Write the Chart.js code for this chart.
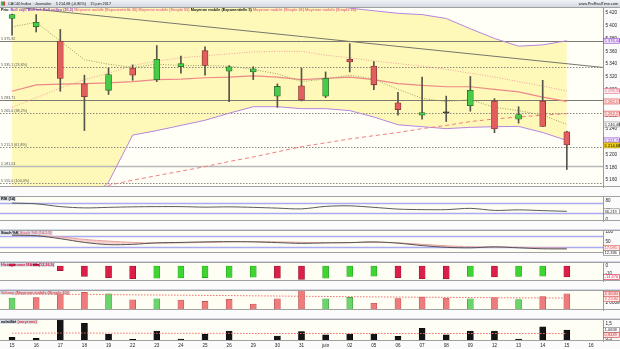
<!DOCTYPE html>
<html lang="fr"><head><meta charset="utf-8"><title>CAC40 Indice</title>
<script src="https://cdn.jsdelivr.net/npm/chart.js@4.4.1/dist/chart.umd.min.js"></script>
<style>
html,body{margin:0;padding:0}
body{width:620px;height:349px;position:relative;overflow:hidden;background:#d3d7e8}
canvas{position:absolute;left:0;display:block}
</style></head><body>
<canvas id="cMain" width="620" height="196" style="top:0px"></canvas>
<canvas id="cRsi" width="620" height="33" style="top:196px"></canvas>
<canvas id="cSto" width="620" height="31" style="top:230px"></canvas>
<canvas id="cMacd" width="620" height="27" style="top:262px"></canvas>
<canvas id="cVol" width="620" height="28" style="top:290px"></canvas>
<canvas id="cVat" width="620" height="30" style="top:319px"></canvas>
<script>
// ---------------- DATA ----------------
const labels = ['15','16','17','18','19','22','23','24','25','26','29','30','31','juin','02','05','06','07','08','09','12','13','14','15','16'];
const openP  = [5411,5398,5376,5309.5,5299.5,5334,5316,5336,5361,5329,5328,5290.5,5306.5,5290.5,5347.5,5337,5280,5261,5265,5275.7,5283,5254.5,5283,5235];
const closeP = [5417,5405,5318,5289.5,5324,5323,5347.5,5341,5338,5336,5333,5305.5,5284.6,5318,5343.6,5308,5269.5,5265,5264.5,5299.5,5239.6,5262,5243.5,5214.68];
const highP  = [5418,5417,5394,5323,5334,5339,5369,5352.5,5367,5338,5336,5309.5,5334,5328,5372,5344,5296.5,5320,5290.5,5321,5286.6,5274,5315,5236];
const lowP   = [5385,5390,5298,5237,5293,5315,5313,5326,5323,5282,5316,5273,5283,5288,5328,5300.5,5261,5254.5,5251,5267,5233.7,5248.5,5243,5176.5];
const bollUp  = [5462,5470,5478,5484,5482,5476,5470,5465,5460,5455,5450,5446,5442,5435,5427,5423,5419,5417,5411,5395,5380,5368,5370,5376.44];
const bollMid = [5273,5288,5303,5316,5326,5338,5345,5350,5353,5356,5359,5360,5360,5354,5350,5345,5341,5337,5332,5326,5320,5313,5306,5298.33];
const bollLow = [5084,5096,5108,5120,5157,5230,5237,5245,5253,5264,5274,5274,5271,5271,5268,5258,5246,5243,5240,5242,5243,5243.5,5234,5221.74];
const ema5    = [5398,5405,5376,5347,5340,5335,5340,5338,5338,5337,5332,5325,5313,5317,5323,5317,5301,5287,5282,5285,5273,5268,5261,5246.48];
const maSolid = [5298,5308,5309,5310,5311,5313,5316,5317,5319,5320,5322,5320,5316,5318,5320,5316,5310,5307,5305,5305,5301,5297,5289,5282.17];
const maDash  = [5118,5127,5136,5144,5152,5160,5167,5174,5181,5189,5196,5204,5212,5218,5224,5229,5234,5240,5245,5251,5255,5258,5261,5263.27];
const trendX = [-0.5, 24.5];
const trendY = [5431, 5335];
const levelValues = [5375.92, 5335.1, 5283.71, 5265.0, 5211.5, 5181.53, 5155.0];
const levelLabels = ['5 375,92','5 335,1 (23,6%)','5 283,71','5 265,0 (38,2%)','5 211,5 (61,8%)','5 181,53','5 155,0 (100,0%)'];
const priceTicks = [5160,5180,5200,5220,5240,5260,5280,5300,5320,5340,5360,5380,5400,5420];

const rsi = [71.9,68.6,56.5,51,53.3,55.5,56.5,56.5,54.3,55.5,53.3,50,46.7,57.5,59.8,53.3,45.8,43.5,43.5,49,40.2,42.5,39.2,36.219];
const rsiLevels = [70, 30];
const rsiTicks = [0,20,40,60,80,100];

const stochK = [83.5,80.8,65.4,46,34.6,36,43.8,46,48.8,50,48.8,45,41,43.8,45,48.8,42.3,29.6,20.7,18,23,18,13,12.336];
const stochD = [84.6,82.3,74.6,61.5,52.7,46,42.3,43.8,46,48.8,50,48.8,46,43.8,45,46,43.8,36,28.5,23,22,20.7,18,17.095];
const stochLevels = [80, 20];
const stochTicks = [0,50,100];

const macdHist = [2.8,2.2,-6.2,-13.8,-15.7,-17,-16.3,-16,-15.6,-15.2,-15,-16.3,-17.9,-16.3,-14,-13.6,-15.7,-17,-17.2,-13.8,-14.7,-14,-13.7,-14.676];
const macdTicks = [-10,0];

const volume = [3210,3340,4170,4750,4370,2770,3020,2690,2310,2880,1610,3020,5190,3020,3400,1800,3080,3460,3210,3020,3340,2830,3600,4365];
const volumeSma = [4300,4260,4230,4190,4150,4090,4040,3990,3930,3880,3820,3760,3700,3640,3590,3530,3480,3440,3400,3360,3320,3280,3250,3220];
const volumeTicks = [2000,4000];

const volat = [0.61,0.54,1.71,1.5,0.8,0.48,1.01,0.5,0.8,1.01,0.39,0.69,0.97,0.76,0.82,0.82,0.67,1.18,0.76,1.01,1.01,0.5,1.28,1.0658];
const volatMean = [0.87,0.87,0.88,0.88,0.87,0.87,0.86,0.86,0.86,0.86,0.85,0.85,0.85,0.85,0.85,0.85,0.85,0.85,0.85,0.85,0.85,0.85,0.85,0.8449];
const volatTicks = [0.5,1.0,1.5];

const headerText = 'CAC40 Indice · Journalier    5 214,68 (-0,80%)    15 juin 2017';

// ---------------- HELPERS ----------------
const FONT = '"Liberation Sans", Arial, sans-serif';
Chart.defaults.font.family = FONT;
function fr(v, d) {
  const s = Math.abs(v).toFixed(d).split('.');
  const n = s[0].replace(/\B(?=(\d{3})+(?!\d))/g, ' ');
  return (v < 0 ? '-' : '') + n + (d ? ',' + s[1] : '');
}
const last = a => a[a.length - 1];
const GREEN = '#46cc46', GREEN_B = '#2d6a2d', RED = '#e35f5f', RED_B = '#7d3030';

function panelPlugin(p) {
  return {
    id: 'pp' + p.key,
    beforeDraw(chart) {
      const { ctx, chartArea: a } = chart;
      ctx.save();
      ctx.fillStyle = '#fbfbfb'; ctx.fillRect(0, 0, chart.width, chart.height);
      ctx.fillStyle = p.bg; ctx.fillRect(a.left, a.top, a.right - a.left, a.bottom - a.top);
      ctx.restore();
    },
    beforeDatasetsDraw(chart) {
      const { ctx, chartArea: a } = chart; const y = chart.scales.y; const x = chart.scales.x;
      ctx.save();
      ctx.beginPath(); ctx.rect(a.left, a.top, a.right - a.left, a.bottom - a.top); ctx.clip();
      (p.levels || []).forEach(L => {
        const py = Math.round(y.getPixelForValue(L.v)) + 0.5;
        ctx.strokeStyle = L.color; ctx.lineWidth = L.w || 1; ctx.setLineDash(L.dash || []);
        ctx.beginPath(); ctx.moveTo(a.left, py); ctx.lineTo(a.right, py); ctx.stroke();
        if (L.text) {
          ctx.setLineDash([]); ctx.font = '3.7px ' + FONT; ctx.fillStyle = '#555';
          ctx.textAlign = 'left'; ctx.textBaseline = 'bottom';
          ctx.fillText(L.text, a.left + 1, py - 0.4);
        }
      });
      if (p.trend) {
        ctx.setLineDash([]); ctx.strokeStyle = p.trend.color; ctx.lineWidth = 1;
        ctx.beginPath();
        p.trend.xs.forEach((xv, i) => {
          const px = x.getPixelForValue(xv), py = y.getPixelForValue(p.trend.ys[i]);
          if (i === 0) ctx.moveTo(px, py); else ctx.lineTo(px, py);
        });
        ctx.stroke();
      }
      if (p.title) {
        let tx = 0.5; const ty = a.top + (p.titleY || 0.6);
        ctx.font = 'bold 3.8px ' + FONT;
        const w = p.title.reduce((s, t) => s + ctx.measureText(t.t).width, 0);
        if (p.titleBg) { ctx.fillStyle = p.titleBg; ctx.fillRect(0, ty - 0.2, w + 2, 4.4); }
        ctx.textBaseline = 'top'; ctx.textAlign = 'left';
        p.title.forEach(t => { ctx.fillStyle = t.c; ctx.fillText(t.t, tx + 0.5, ty + 0.3); tx += ctx.measureText(t.t).width; });
      }
      ctx.restore();
    },
    afterDraw(chart) {
      const { ctx, chartArea: a } = chart; const y = chart.scales.y;
      ctx.save();
      ctx.setLineDash([]);
      ctx.strokeStyle = '#a2a2a2'; ctx.lineWidth = 1;
      ctx.beginPath();
      ctx.moveTo(0, a.top + 0.5); ctx.lineTo(chart.width, a.top + 0.5);
      ctx.moveTo(0, a.bottom - 0.5); ctx.lineTo(chart.width, a.bottom - 0.5);
      ctx.stroke();
      const bx = (p.boxes || []).map(b => Object.assign({}, b, { py: y.getPixelForValue(b.v) })).sort((m, n) => m.py - n.py);
      for (let i = 1; i < bx.length; i++) if (bx[i].py - bx[i - 1].py < 5) bx[i].py = bx[i - 1].py + 5;
      bx.forEach(b => {
        ctx.fillStyle = b.bg; ctx.fillRect(a.right + 0.5, b.py - 2.5, 16, 5);
        ctx.strokeStyle = b.border || b.fg; ctx.lineWidth = 0.6; ctx.strokeRect(a.right + 0.5, b.py - 2.5, 16, 5);
        ctx.fillStyle = b.fg; ctx.font = '4px ' + FONT; ctx.textBaseline = 'middle'; ctx.textAlign = 'left';
        ctx.fillText(b.text, a.right + 1.6, b.py + 0.2);
      });
      if (p.extra) p.extra(chart, ctx);
      ctx.restore();
    }
  };
}

function makeChart(id, datasets, ys, pcfg, showX) {
  const scales = {
    x: {
      type: 'category', offset: true, display: !!showX,
      grid: { display: false, drawTicks: false }, border: { display: false },
      ticks: { font: { size: 4.6 }, color: '#222', padding: 1.5, maxRotation: 0, autoSkip: false },
      afterFit: s => { s.height = 8; s.paddingLeft = 0; s.paddingRight = 0; }
    },
    y: {
      position: 'right', min: ys.min, max: ys.max,
      afterBuildTicks: s => { s.ticks = ys.ticks.map(v => ({ value: v })); },
      afterFit: s => { s.width = 17; s.paddingTop = 0; s.paddingBottom = 0; },
      grid: { display: false, drawTicks: false },
      border: { display: true, color: '#9a9a9a', width: 1 },
      ticks: { font: { size: 4.6 }, color: '#222', padding: 2.5, callback: ys.fmt }
    }
  };
  return new Chart(document.getElementById(id), {
    type: 'bar',
    data: { labels, datasets },
    options: {
      responsive: false, animation: false, devicePixelRatio: 1,
      layout: { padding: pcfg.padding || 0 },
      plugins: { legend: { display: false }, tooltip: { enabled: false }, filler: { drawTime: 'beforeDatasetsDraw', propagate: false } },
      scales
    },
    plugins: [panelPlugin(pcfg)]
  });
}
const lineDs = (data, color, extra) => Object.assign({ type: 'line', data, borderColor: color, borderWidth: 1, pointRadius: 0, fill: false, tension: 0 }, extra || {});

// ---------------- MAIN PRICE PANEL ----------------
const bodyColor = openP.map((o, i) => Math.abs(closeP[i] - o) < 1 ? '#333' : (closeP[i] > o ? GREEN : RED));
const bodyBorder = openP.map((o, i) => Math.abs(closeP[i] - o) < 1 ? '#222' : (closeP[i] > o ? GREEN_B : RED_B));
makeChart('cMain', [
  { type: 'bar', data: openP.map((o, i) => [o, closeP[i]]), backgroundColor: bodyColor, borderColor: bodyBorder, borderWidth: 0.8, borderSkipped: false, barThickness: 6, minBarLength: 1, grouped: false, order: 0 },
  { type: 'bar', data: lowP.map((l, i) => [l, highP[i]]), backgroundColor: '#55554a', barThickness: 1, grouped: false, order: 1 },
  lineDs(ema5, '#a0a068', { borderDash: [1, 1.5], order: 3 }),
  lineDs(maSolid, '#ee8888', { borderWidth: 1.2, order: 4 }),
  lineDs(maDash, '#ee7e7e', { borderDash: [4, 3], order: 5 }),
  lineDs(bollMid, '#f2a2a2', { borderDash: [1, 1.5], order: 6 }),
  lineDs(bollUp, '#b784dd', { order: 10 }),
  lineDs(bollLow, '#b784dd', { order: 11, fill: '-1', backgroundColor: '#fff9b9' })
], {
  min: 5149.4, max: 5428.8, ticks: priceTicks, fmt: v => fr(v, 0)
}, {
  key: 'main', bg: '#fffff7', padding: { top: 7, bottom: 1 },
  trend: { xs: trendX, ys: trendY, color: '#77776b' },
  levels: levelValues.map((v, i) => ({
    v, text: levelLabels[i],
    color: [0, 2].includes(i) ? '#7b7b6e' : (i === 5 ? '#b9b9b9' : '#8a8a80'),
    w: i === 5 ? 1.6 : 1,
    dash: [0, 2, 5].includes(i) ? [] : [1.5, 1.5]
  })),
  boxes: [
    { v: last(bollUp), text: fr(last(bollUp), 2), bg: '#efe4fa', fg: '#8a3cc8' },
    { v: last(bollMid), text: fr(last(bollMid), 2), bg: '#fdecef', fg: '#e0708a' },
    { v: last(maSolid), text: fr(last(maSolid), 2), bg: '#fde6e6', fg: '#dd3c3c' },
    { v: last(maDash), text: fr(last(maDash), 2), bg: '#fde6e6', fg: '#dd3c3c' },
    { v: last(ema5), text: fr(last(ema5), 2), bg: '#ffffff', fg: '#222', border: '#888' },
    { v: last(bollLow), text: fr(last(bollLow), 2), bg: '#efe4fa', fg: '#8a3cc8' },
    { v: last(closeP), text: fr(last(closeP), 2), bg: '#f3d21c', fg: '#000', border: '#b09000' }
  ],
  title: [
    { t: 'Prix: ', c: '#000' },
    { t: 'Boll sup: Boll inf: Boll milieu (20,2) ', c: '#9a3fd0' },
    { t: 'Moyenne mobile (Exponentielle 20) ', c: '#e56f8c' },
    { t: 'Moyenne mobile (Simple 50) ', c: '#e56f8c' },
    { t: 'Moyenne mobile (Exponentielle 5) ', c: '#111' },
    { t: 'Moyenne mobile (Simple 26) ', c: '#e56f8c' },
    { t: 'Moyenne mobile (Simple 26)', c: '#e56f8c' }
  ],
  titleY: 0.6,
  extra(chart, ctx) {
    const g = ctx.createLinearGradient(0, 0, 0, 7);
    g.addColorStop(0, '#f2f4f8'); g.addColorStop(1, '#d2d8e2');
    ctx.fillStyle = g; ctx.fillRect(0, 0, chart.width, 7);
    ctx.fillStyle = '#4caf50'; ctx.fillRect(1, 1.5, 2, 4);
    ctx.fillStyle = '#d9443b'; ctx.fillRect(3, 1.5, 2, 4);
    ctx.font = '3.8px ' + FONT; ctx.fillStyle = '#111'; ctx.textBaseline = 'middle';
    ctx.textAlign = 'left'; ctx.fillText(headerText, 8, 3.7);
    ctx.textAlign = 'right'; ctx.fillText('www.ProRealTime.com', 618, 3.7);
  }
}, false);

// ---------------- RSI ----------------
makeChart('cRsi', [
  lineDs(rsi, '#5a5a5a', { tension: 0.3 })
], { min: -5.56, max: 102.3, ticks: rsiTicks, fmt: v => String(v) }, {
  key: 'rsi', bg: '#fefef4',
  levels: rsiLevels.map(v => ({ v, color: '#aaaaf0', w: 1.5 })),
  boxes: [{ v: last(rsi), text: fr(last(rsi), 3), bg: '#ffffff', fg: '#222', border: '#777' }],
  title: [{ t: 'RSI (14)', c: '#000' }], titleBg: '#d9dee8'
});

// ---------------- STOCHASTIC ----------------
makeChart('cSto', [
  lineDs(stochK, '#555555', { tension: 0.3, order: 0 }),
  lineDs(stochD, '#e6a0a0', { tension: 0.3, order: 1, fill: '-1', backgroundColor: 'rgba(240,165,165,0.5)' })
], { min: -8.85, max: 110.4, ticks: stochTicks, fmt: v => String(v) }, {
  key: 'sto', bg: '#fefef4',
  levels: stochLevels.map(v => ({ v, color: '#aaaaf0', w: 1.5 })),
  boxes: [
    { v: last(stochD), text: fr(last(stochD), 3), bg: '#fdeaea', fg: '#e05555' },
    { v: last(stochK), text: fr(last(stochK), 3), bg: '#ffffff', fg: '#222', border: '#777' }
  ],
  title: [{ t: 'Stoch %K ', c: '#000' }, { t: 'Stoch %D (14,3,5)', c: '#e07080' }], titleBg: '#d9dee8'
});

// ---------------- MACD HISTOGRAM ----------------
const macdColor = macdHist.map((v, i) => (i > 0 && v > macdHist[i - 1]) ? '#3ed432' : '#dc1f48');
const macdBorder = macdHist.map((v, i) => (i > 0 && v > macdHist[i - 1]) ? '#239a1c' : '#8e1030');
makeChart('cMacd', [
  { type: 'bar', data: macdHist, backgroundColor: macdColor, borderColor: macdBorder, borderWidth: 0.6, borderSkipped: false, barThickness: 6, grouped: false }
], { min: -20.1, max: 5.38, ticks: macdTicks, fmt: v => String(v) }, {
  key: 'macd', bg: '#fefef4',
  boxes: [{ v: last(macdHist), text: fr(last(macdHist), 3), bg: '#ffffff', fg: '#dc1f48' }],
  title: [{ t: 'Histogramme MACD (12,26,9)', c: '#d0103c' }], titleBg: '#d9dee8'
});

// ---------------- VOLUME ----------------
const volColor = closeP.map((c, i) => (i === 0 || c > closeP[i - 1]) ? '#6cd46c' : '#ee7c7c');
const volBorder = closeP.map((c, i) => (i === 0 || c > closeP[i - 1]) ? '#3c9a3c' : '#b84a4a');
makeChart('cVol', [
  lineDs(volumeSma, '#f07070', { borderDash: [1.5, 1.5], order: 0 }),
  { type: 'bar', data: volume, backgroundColor: volColor, borderColor: volBorder, borderWidth: 0.6, borderSkipped: false, barThickness: 6, grouped: false, order: 1 }
], { min: 0, max: 5385, ticks: volumeTicks, fmt: v => fr(v, 0) + 'M' }, {
  key: 'vol', bg: '#fefef4',
  boxes: [
    { v: last(volume), text: fr(last(volume), 0) + 'M', bg: '#fde2e2', fg: '#d83a3a' },
    { v: last(volumeSma), text: fr(last(volumeSma), 0) + 'M', bg: '#fff2f2', fg: '#e05050' }
  ],
  title: [{ t: 'Volume (Moyenne mobile (Simple 20))', c: '#e05050' }], titleBg: '#d9dee8'
});

// ---------------- VOLATILITY ----------------
makeChart('cVat', [
  lineDs(volatMean, '#f07070', { borderDash: [1.5, 1.5], order: 0 }),
  { type: 'bar', data: volat, backgroundColor: '#141414', borderColor: '#000', borderWidth: 0.5, barThickness: 6, grouped: false, order: 1 }
], { min: 0.373, max: 1.774, ticks: volatTicks, fmt: v => fr(v, 1) }, {
  key: 'vat', bg: '#fefef4',
  boxes: [
    { v: last(volat), text: fr(last(volat), 4), bg: '#ffffff', fg: '#222', border: '#777' },
    { v: last(volatMean), text: fr(last(volatMean), 4), bg: '#fde6e6', fg: '#d83a3a' }
  ],
  title: [{ t: 'volatilité ', c: '#000' }, { t: '(moyenne)', c: '#e03030' }], titleBg: '#d9dee8'
}, true);
</script>
</body></html>
